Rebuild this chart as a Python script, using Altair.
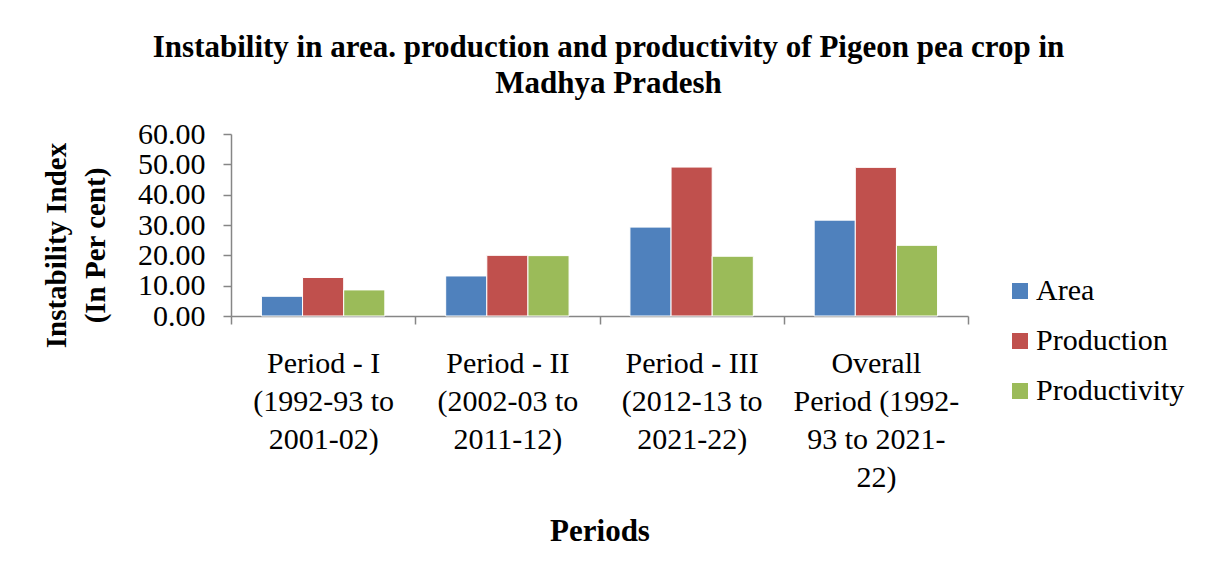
import altair as alt
import pandas as pd

periods = [
    "Period - I|(1992-93 to|2001-02)",
    "Period - II|(2002-03 to|2011-12)",
    "Period - III|(2012-13 to|2021-22)",
    "Overall|Period (1992-|93 to 2021-|22)",
]
series = ["Area", "Production", "Productivity"]
area = [6.5, 13.2, 29.3, 31.6]
production = [12.7, 20.0, 49.1, 49.0]
productivity = [8.6, 19.9, 19.7, 23.3]
colors = ["#4F81BD", "#C0504D", "#9BBB59"]
y_ticks = [0, 10, 20, 30, 40, 50, 60]

rows = []
for name, vals in zip(series, [area, production, productivity]):
    for p, v in zip(periods, vals):
        rows.append({"period": p, "series": name, "value": v})
df = pd.DataFrame(rows)

FONT = "Liberation Serif"
AXC = "#868686"

chart = alt.Chart(df).mark_bar(stroke="white", strokeWidth=1).encode(
    x=alt.X(
        "period:N",
        sort=periods,
        scale=alt.Scale(paddingInner=0, paddingOuter=0),
        axis=alt.Axis(
            title="Periods",
            labelExpr="split(datum.label, '|')",
            labelAngle=0,
            labelFontSize=30,
            labelLineHeight=38,
            labelPadding=24,
            labelColor="black",
            labelFont=FONT,
            tickBand="extent",
            tickSize=8,
            tickColor=AXC,
            tickWidth=1.5,
            domainColor=AXC,
            domainWidth=1.5,
            titleFont=FONT,
            titleFontSize=31,
            titleFontWeight="bold",
            titleColor="black",
            titlePadding=24,
        ),
    ),
    xOffset=alt.XOffset(
        "series:N", sort=series,
        scale=alt.Scale(paddingOuter=0.74, paddingInner=0),
    ),
    y=alt.Y(
        "value:Q",
        scale=alt.Scale(domain=[0, 60]),
        axis=alt.Axis(
            values=y_ticks,
            format=".2f",
            grid=False,
            title=["Instability Index", "(In Per cent)"],
            titleFont=FONT,
            titleFontSize=29,
            titleFontWeight="bold",
            titleColor="black",
            titleLineHeight=39,
            titlePadding=27,
            titleY=111,
            labelFont=FONT,
            labelFontSize=30,
            labelColor="black",
            labelPadding=18,
            tickSize=8,
            tickColor=AXC,
            tickWidth=1.5,
            domainColor=AXC,
            domainWidth=1.5,
        ),
    ),
    color=alt.Color(
        "series:N",
        sort=series,
        scale=alt.Scale(domain=series, range=colors),
        legend=alt.Legend(
            title=None,
            orient="none",
            legendX=774,
            legendY=142,
            symbolType="square",
            symbolSize=256,
            symbolStrokeWidth=0,
            labelFont=FONT,
            labelFontSize=30,
            labelColor="black",
            rowPadding=20,
            labelOffset=1,
        ),
    ),
).properties(
    width=737,
    height=182,
    padding={"left": 34, "top": 24, "right": 10, "bottom": 10},
    title=alt.TitleParams(
        ["Instability in area. production and productivity of Pigeon pea crop in", "Madhya Pradesh"],
        font=FONT,
        fontSize=31,
        fontWeight="bold",
        color="black",
        lineHeight=36,
        offset=19,
        anchor="middle",
        dx=9,
    ),
).configure_view(stroke=None)

chart.save("out.html", embed_options={"renderer": "svg", "actions": False})
